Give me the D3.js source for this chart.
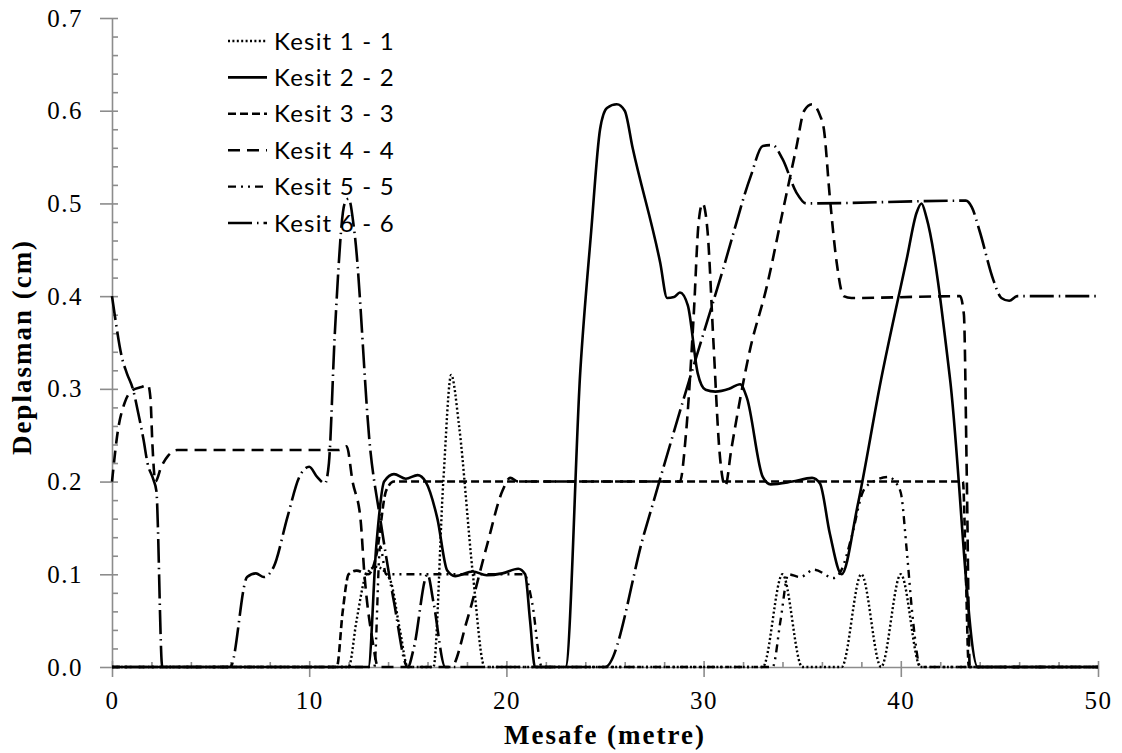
<!DOCTYPE html>
<html>
<head>
<meta charset="utf-8">
<script src="https://cdn.jsdelivr.net/npm/d3@7"></script>
<style>
  body { margin: 0; background: #fff; }
  svg { display: block; }
</style>
</head>
<body>
<svg width="1122" height="753"></svg>
<script>
// values: [mesafe, deplasman]
var kesit1 = [[0,0],[12.0,0],[12.4,0.05],[12.9,0.1],[13.4,0.108],[14.1,0.094],[14.6,0.04],[15.0,0],[16.3,0],[16.8,0.2],[17.2,0.315],[17.6,0.26],[18.3,0.1],[18.9,0],[33,0],[34,0.1],[35,0],[37,0],[38,0.1],[39,0],[40,0.1],[41,0],[50,0]];
var kesit2 = [[0,0],[13.0,0],[13.4,0.13],[13.8,0.2],[14.3,0.208],[14.9,0.203],[15.5,0.207],[15.9,0.2],[16.5,0.16],[17.0,0.104],[17.4,0.098],[18.3,0.103],[19.0,0.099],[19.8,0.101],[20.6,0.106],[20.95,0.1],[21.2,0.05],[21.45,0],[23.0,0],[23.75,0.32],[24.3,0.47],[24.75,0.58],[25.1,0.603],[25.6,0.607],[26.0,0.6],[26.4,0.56],[27.8,0.436],[28.15,0.398],[28.5,0.399],[28.8,0.404],[29.2,0.39],[29.7,0.317],[30.1,0.299],[30.6,0.297],[31.3,0.3],[31.85,0.305],[32.2,0.29],[33.0,0.205],[33.4,0.197],[34.5,0.2],[35.5,0.204],[35.9,0.198],[36.4,0.144],[37.0,0.1],[37.8,0.173],[39.0,0.31],[40.3,0.44],[40.8,0.49],[41.05,0.5],[41.3,0.485],[42.5,0.31],[43.9,0],[50,0]];
var kesit3 = [[0,0],[11.4,0],[11.7,0.06],[12.0,0.1],[12.4,0.104],[13.0,0.1],[13.4,0.12],[13.9,0.19],[14.3,0.2],[43.15,0.2],[43.3,0.1],[43.45,0],[50,0]];
var kesit4 = [[0,0.2],[0.3,0.255],[0.66,0.286],[1.0,0.298],[1.5,0.302],[1.83,0.304],[1.95,0.29],[2.05,0.24],[2.2,0.2],[2.5,0.216],[2.85,0.228],[3.3,0.234],[11.5,0.234],[11.9,0.238],[12.2,0.2],[12.6,0.16],[12.8,0.1],[13.2,0.03],[13.5,0],[17.2,0],[18.0,0.05],[19.0,0.13],[19.8,0.19],[20.2,0.204],[20.6,0.2],[28.8,0.2],[29.1,0.25],[29.5,0.38],[29.75,0.48],[29.95,0.5],[30.2,0.47],[30.5,0.35],[30.8,0.234],[31.1,0.195],[31.4,0.234],[32.35,0.342],[33.2,0.41],[34.0,0.49],[34.7,0.56],[35.1,0.6],[35.5,0.607],[35.9,0.595],[36.1,0.58],[36.4,0.507],[36.75,0.436],[37.1,0.4],[37.5,0.398],[43.0,0.4],[43.2,0.38],[43.35,0.2],[43.5,0],[50,0]];
var kesit5 = [[0,0],[13.3,0],[13.6,0.13],[13.9,0.1],[14.5,0.1],[20.9,0.1],[21.3,0.07],[21.8,0],[33.5,0],[33.9,0.05],[34.3,0.1],[34.9,0.097],[35.6,0.105],[36.6,0.096],[37.0,0.105],[37.5,0.14],[38.1,0.19],[38.6,0.2],[39.4,0.205],[39.7,0.2],[40.0,0.188],[40.3,0.126],[40.6,0.054],[41.0,0],[50,0]];
var kesit6 = [[0,0.4],[0.15,0.378],[0.5,0.334],[0.75,0.317],[1.07,0.299],[1.33,0.274],[1.6,0.245],[1.8,0.22],[2.1,0.202],[2.25,0.19],[2.55,0],[6.0,0],[6.85,0.097],[7.3,0.101],[7.7,0.097],[8.2,0.108],[8.9,0.162],[9.5,0.205],[10.0,0.216],[10.4,0.205],[10.8,0.198],[11.0,0.22],[11.3,0.36],[11.8,0.5],[12.0,0.505],[12.3,0.468],[13.1,0.234],[13.6,0.16],[14.3,0.07],[15.0,0],[15.3,0.02],[16.0,0.1],[16.3,0.07],[16.9,0],[25,0],[27,0.145],[29,0.29],[31,0.43],[32.4,0.53],[33.0,0.562],[33.5,0.563],[34.0,0.548],[34.7,0.512],[35.2,0.5],[43.3,0.503],[43.6,0.496],[44.0,0.47],[44.7,0.417],[45.1,0.398],[45.5,0.395],[45.9,0.4],[50,0.4]];

var seriesNames = ["Kesit 1 - 1", "Kesit 2 - 2", "Kesit 3 - 3", "Kesit 4 - 4", "Kesit 5 - 5", "Kesit 6 - 6"];
var xTicks = [0, 10, 20, 30, 40, 50];
var yTicks = [0, 0.1, 0.2, 0.3, 0.4, 0.5, 0.6, 0.7];

var svg = d3.select("svg");
var axisGray = "#8c8c8c";

var x = d3.scaleLinear().domain([0, 50]).range([112, 1098]);
var y = d3.scaleLinear().domain([0, 0.7]).range([667, 18]);

var allSeries = [kesit1, kesit2, kesit3, kesit4, kesit5, kesit6];
var styles = [
  { dash: "2 2.4", width: 2.4 },
  { dash: null, width: 2.6 },
  { dash: "8 4", width: 2.6 },
  { dash: "12 7", width: 2.6 },
  { dash: "8 5 2 5 2 5", width: 2.4 },
  { dash: "24 5 1.5 5", width: 2.6 }
];

// minor ticks first, then the major ones over them
var yMinor = d3.range(0, 0.7001, 0.02).filter((v) => Math.abs(v * 10 - Math.round(v * 10)) > 1e-6);
var xMinor = d3.range(0, 50.1, 2).filter((v) => v % 10 !== 0);

svg.append("g")
  .attr("transform", "translate(112,0)")
  .call(d3.axisRight(y).tickValues(yMinor).tickSize(6).tickFormat(""))
  .call((g) => g.select(".domain").remove());
svg.append("g")
  .attr("transform", "translate(112,0)")
  .call(d3.axisRight(y).tickValues(yTicks).tickSize(6).tickFormat(""))
  .call((g) => g.select(".domain").remove());
var yAxis = svg.append("g")
  .attr("transform", "translate(112,0)")
  .call(d3.axisLeft(y).tickValues(yTicks).tickSize(12).tickSizeOuter(0).tickPadding(17).tickFormat(d3.format(".1f")));

svg.append("g")
  .attr("transform", "translate(0,667)")
  .call(d3.axisTop(x).tickValues(xMinor).tickSize(5).tickFormat(""))
  .call((g) => g.select(".domain").remove());
svg.append("g")
  .attr("transform", "translate(0,667)")
  .call(d3.axisTop(x).tickValues(xTicks).tickSize(6).tickFormat(""))
  .call((g) => g.select(".domain").remove());
var xAxis = svg.append("g")
  .attr("transform", "translate(0,667)")
  .call(d3.axisBottom(x).tickValues(xTicks).tickSize(10).tickSizeOuter(0).tickPadding(14).tickFormat(d3.format("d")));

svg.selectAll(".tick line, .domain").attr("stroke", axisGray).attr("stroke-width", 1.6);
svg.selectAll(".tick text")
  .attr("fill", "#000")
  .style("font-family", "'Liberation Serif', 'DejaVu Serif', serif")
  .style("font-size", "25px")
  .style("letter-spacing", "1.5px");

// axis titles
svg.append("text")
  .attr("x", 605)
  .attr("y", 744)
  .attr("text-anchor", "middle")
  .style("font-family", "'Liberation Serif', serif")
  .style("font-weight", "bold")
  .style("font-size", "27px")
  .style("letter-spacing", "2px")
  .text("Mesafe (metre)");

svg.append("text")
  .attr("transform", "translate(31,347) rotate(-90)")
  .attr("text-anchor", "middle")
  .style("font-family", "'Liberation Serif', serif")
  .style("font-weight", "bold")
  .style("font-size", "27px")
  .style("letter-spacing", "2px")
  .text("Deplasman (cm)");

// legend
var legend = svg.append("g").selectAll("g")
  .data(seriesNames)
  .enter()
  .append("g")
  .attr("transform", (d, i) => `translate(0,${41 + i * 36.4})`);

legend.append("line")
  .attr("x1", 228)
  .attr("x2", 267)
  .attr("stroke", "#000")
  .attr("stroke-width", (d, i) => styles[i].width)
  .attr("stroke-dasharray", (d, i) => styles[i].dash);

legend.append("text")
  .attr("x", 274)
  .attr("dy", "0.36em")
  .style("font-family", "Lato, 'Open Sans', sans-serif")
  .style("font-size", "24px")
  .style("letter-spacing", "1.2px")
  .text((d) => d);

// lines
var line = d3.line()
  .x((d) => x(d[0]))
  .y((d) => y(d[1]))
  .curve(d3.curveMonotoneX);

svg.append("g")
  .selectAll("path")
  .data(allSeries)
  .enter()
  .append("path")
  .attr("d", line)
  .attr("fill", "none")
  .attr("stroke", "#000")
  .attr("stroke-width", (d, i) => styles[i].width)
  .attr("stroke-dasharray", (d, i) => styles[i].dash)
  .attr("stroke-linejoin", "round");
</script>
</body>
</html>
